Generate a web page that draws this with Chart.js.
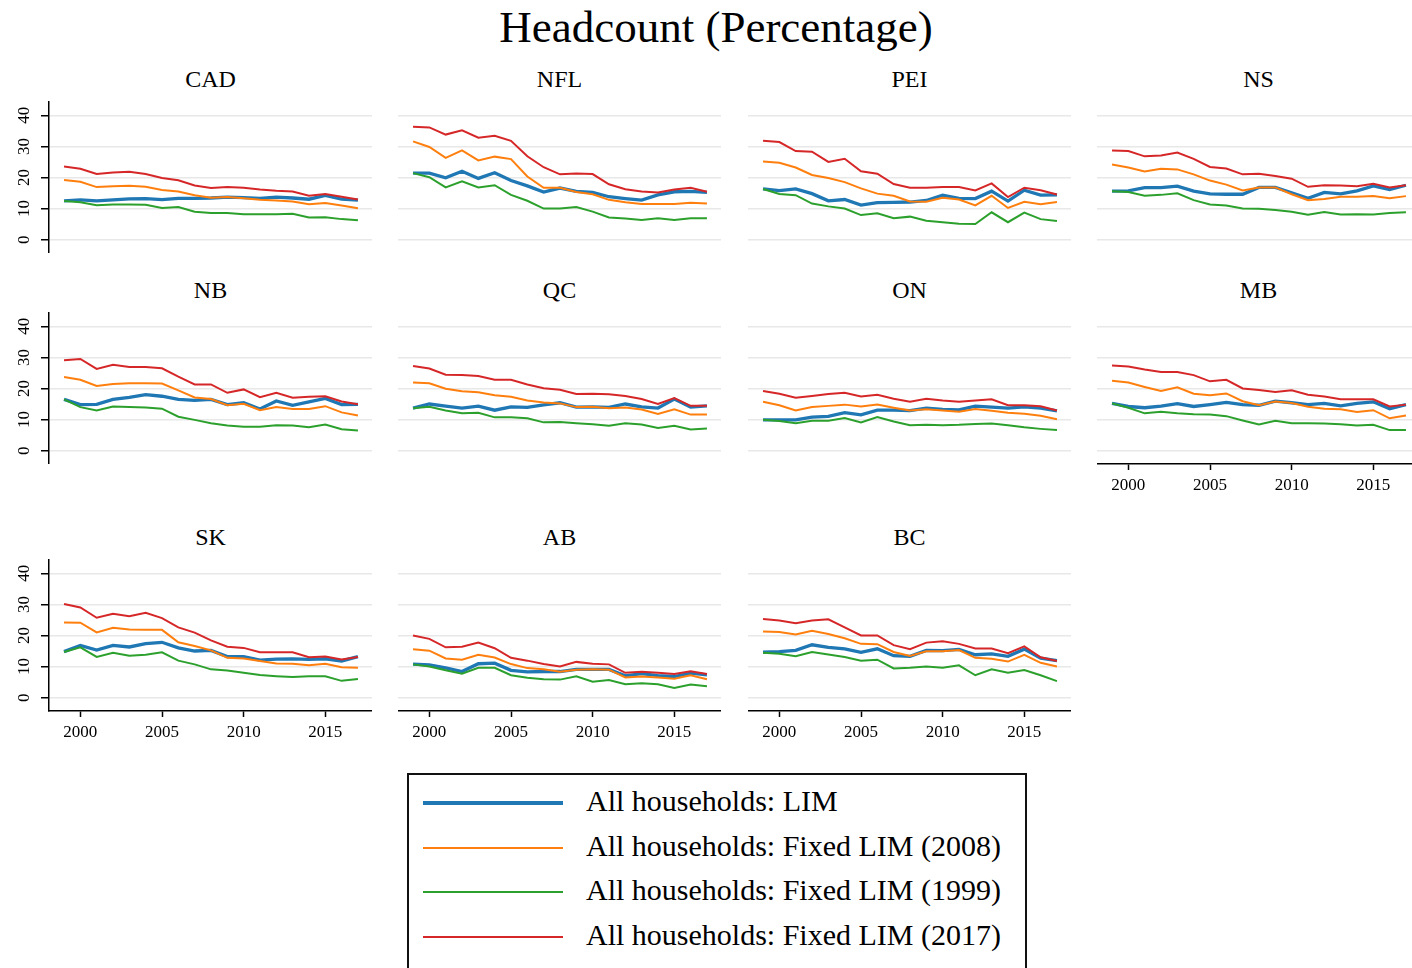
<!DOCTYPE html>
<html>
<head>
<meta charset="utf-8">
<title>Headcount (Percentage)</title>
<script src="https://cdn.jsdelivr.net/npm/chart.js@4.4.1/dist/chart.umd.min.js"></script>
<style>
  html, body { margin: 0; padding: 0; background: #fff; width: 1412px; height: 968px; overflow: hidden; }
  body { position: relative; font-family: "Liberation Serif", "Times New Roman", serif; color: #000; }
  .lbl { position: absolute; transform: translate(-50%, -50%); white-space: nowrap; line-height: 1; }
  canvas { position: absolute; }
  #legendBox { position: absolute; left: 407px; top: 773px; width: 620px; height: 230px; border: 2px solid #111; box-sizing: border-box; }
  .legLine { position: absolute; left: 423px; width: 140px; }
  .legText { position: absolute; left: 586px; font-size: 30px; line-height: 1; white-space: nowrap; transform: translateY(-50%); }
</style>
</head>
<body>
<div class="lbl" style="left:716px;top:27px;font-size:45px;">Headcount (Percentage)</div>
<div id="legendBox"></div>
<script>
// Survey years and axis ticks
const years = [1999, 2000, 2001, 2002, 2003, 2004, 2005, 2006, 2007, 2008, 2009, 2010, 2011, 2012, 2013, 2014, 2015, 2016, 2017];
const yearTicks = [2000, 2005, 2010, 2015];
const pctTicks = [0, 10, 20, 30, 40];

const seriesNames = [
  'All households: LIM',
  'All households: Fixed LIM (2008)',
  'All households: Fixed LIM (1999)',
  'All households: Fixed LIM (2017)'
];
const seriesColors = ['#1f77b4', '#ff7f0e', '#2ca02c', '#d62728'];

// Headcount rates (%) by region
const cadLim     = [12.5,12.8,12.5,12.8,13.1,13.2,12.9,13.3,13.3,13.4,13.7,13.5,13.3,13.7,13.4,13.0,14.2,13.0,12.7];
const cadFix2008 = [19.2,18.6,16.9,17.2,17.3,17.0,16.0,15.5,14.3,13.5,13.7,13.3,12.8,12.6,12.3,11.4,11.8,11.0,10.1];
const cadFix1999 = [12.4,12.0,11.1,11.3,11.3,11.2,10.2,10.5,9.0,8.6,8.6,8.2,8.2,8.2,8.3,7.1,7.2,6.6,6.2];
const cadFix2017 = [23.5,22.8,21.1,21.6,21.8,21.1,19.8,19.1,17.4,16.6,16.9,16.7,16.1,15.7,15.5,14.1,14.7,13.8,12.9];

const nflLim     = [21.4,21.4,19.9,22.0,19.7,21.5,19.0,17.3,15.3,16.6,15.5,15.2,13.8,13.2,12.7,14.4,15.4,15.5,15.2];
const nflFix2008 = [31.6,29.8,26.3,28.7,25.5,26.7,25.9,20.3,16.7,16.7,15.3,14.6,12.8,12.0,11.5,11.5,11.5,11.9,11.6];
const nflFix1999 = [21.4,20.1,16.8,18.8,16.8,17.5,14.4,12.5,10.0,10.0,10.5,9.0,7.1,6.8,6.3,6.9,6.3,6.9,6.9];
const nflFix2017 = [36.3,36.1,33.8,35.2,32.8,33.4,31.8,26.8,23.3,21.0,21.3,21.1,17.8,16.2,15.5,15.2,16.1,16.7,15.4];

const peiLim     = [16.3,15.8,16.3,14.8,12.5,12.9,11.1,11.9,12.0,12.1,12.6,14.3,13.3,13.2,15.6,12.4,15.9,14.3,14.4];
const peiFix2008 = [25.1,24.7,23.2,20.8,19.8,18.5,16.5,14.8,14.1,12.3,12.2,13.5,12.9,11.0,14.1,10.2,12.2,11.4,12.1];
const peiFix1999 = [16.3,14.7,14.3,11.6,10.7,10.0,7.9,8.5,6.9,7.4,6.1,5.6,5.1,5.0,8.8,5.6,8.7,6.6,6.0];
const peiFix2017 = [31.8,31.4,28.5,28.3,25.0,26.0,22.0,21.2,17.9,16.7,16.7,16.9,16.9,15.8,18.1,13.7,16.7,15.9,14.5];

const nsLim      = [15.6,15.7,16.7,16.7,17.2,15.6,14.7,14.6,14.6,16.8,16.8,15.1,13.3,15.2,14.7,15.7,17.3,16.1,17.5];
const nsFix2008  = [24.2,23.2,21.9,22.8,22.6,21.0,19.0,17.7,15.8,16.8,16.8,14.6,12.7,13.1,13.8,13.8,14.0,13.3,14.0];
const nsFix1999  = [15.6,15.3,14.1,14.4,14.9,12.7,11.3,11.0,10.0,9.9,9.5,9.0,8.0,8.9,8.1,8.2,8.1,8.6,8.8];
const nsFix2017  = [28.7,28.5,26.8,27.1,28.0,26.0,23.4,22.9,21.0,21.2,20.5,19.6,17.0,17.5,17.4,17.2,18.0,16.8,17.5];

const nbLim      = [16.5,14.8,14.9,16.5,17.1,18.0,17.5,16.5,16.2,16.5,14.8,15.4,13.4,16.0,14.6,15.7,16.8,14.8,14.9];
const nbFix2008  = [23.7,22.8,20.8,21.4,21.7,21.7,21.6,19.4,17.1,16.6,14.6,15.1,13.0,14.0,13.4,13.4,14.3,12.3,11.3];
const nbFix1999  = [16.5,14.0,12.9,14.2,14.0,13.9,13.5,10.9,9.9,8.8,8.1,7.7,7.7,8.2,8.1,7.5,8.4,6.9,6.5];
const nbFix2017  = [29.1,29.5,26.3,27.6,26.9,26.9,26.5,23.8,21.3,21.3,18.6,19.7,17.2,18.6,17.0,17.3,17.5,15.8,14.9];

const qcLim      = [13.7,15.0,14.3,13.7,14.3,13.0,14.1,13.9,14.7,15.4,14.0,14.1,13.9,15.0,14.1,13.7,16.6,14.0,14.4];
const qcFix2008  = [21.9,21.7,19.9,19.1,18.8,17.8,17.3,16.1,15.5,15.2,14.0,14.1,13.6,13.9,13.2,11.8,13.3,11.6,11.6];
const qcFix1999  = [13.6,14.1,12.9,12.0,12.2,10.7,10.7,10.4,9.1,9.2,8.8,8.5,8.0,8.8,8.4,7.3,8.0,6.8,7.1];
const qcFix2017  = [27.2,26.4,24.4,24.3,24.0,22.8,22.8,21.3,20.1,19.6,18.2,18.3,18.1,17.6,16.6,15.0,16.9,14.4,14.4];

const onLim      = [9.9,9.9,9.9,10.8,11.0,12.2,11.5,13.0,13.0,12.9,13.7,13.3,13.1,14.3,14.0,13.7,14.1,13.7,12.8];
const onFix2008  = [15.7,14.6,12.9,14.0,14.4,14.8,14.2,14.8,13.8,12.9,13.3,12.9,12.5,13.4,12.8,12.2,11.9,11.2,10.1];
const onFix1999  = [9.9,9.5,8.8,9.6,9.6,10.5,9.1,10.8,9.4,8.2,8.3,8.2,8.3,8.6,8.7,8.2,7.5,7.0,6.6];
const onFix2017  = [19.2,18.3,17.0,17.6,18.2,18.6,17.4,18.0,16.7,15.7,16.7,16.1,15.7,16.1,16.5,14.6,14.6,14.3,12.9];

const mbLim      = [15.2,14.2,13.8,14.3,15.1,14.2,14.8,15.5,14.8,14.6,15.9,15.4,14.8,15.2,14.4,15.2,15.7,13.5,14.8];
const mbFix2008  = [22.5,21.9,20.5,19.2,20.4,18.3,17.8,18.4,15.9,14.6,15.8,15.3,14.1,13.5,13.3,12.4,13.0,10.4,11.3];
const mbFix1999  = [15.2,13.8,12.0,12.5,12.0,11.7,11.6,11.1,9.7,8.4,9.6,8.8,8.8,8.7,8.5,8.1,8.3,6.6,6.6];
const mbFix2017  = [27.4,27.1,26.1,25.3,25.3,24.3,22.3,22.8,20.0,19.5,18.9,19.4,18.0,17.4,16.5,16.5,16.5,14.2,14.8];

const skLim      = [14.8,16.8,15.3,16.8,16.3,17.4,17.8,16.0,15.0,15.2,13.2,13.2,12.1,12.4,12.5,12.3,12.5,11.8,13.2];
const skFix2008  = [24.2,24.1,21.0,22.5,21.9,21.8,21.8,17.8,16.6,15.2,12.8,12.6,11.8,11.0,10.9,10.4,10.9,9.8,9.6];
const skFix1999  = [14.7,16.2,13.1,14.4,13.5,13.8,14.6,11.9,10.7,9.1,8.7,8.0,7.3,6.9,6.6,6.9,6.9,5.4,6.0];
const skFix2017  = [30.1,29.0,25.7,27.0,26.2,27.3,25.6,22.6,20.9,18.4,16.4,16.0,14.6,14.6,14.6,13.0,13.2,12.3,13.1];

const abLim      = [10.8,10.5,9.6,8.4,10.9,11.1,8.8,8.3,8.4,8.4,9.1,9.1,9.1,7.0,7.7,7.1,6.8,7.9,7.3];
const abFix2008  = [15.6,15.1,12.6,12.2,13.8,12.9,10.8,9.5,9.1,8.3,9.0,9.1,9.0,6.5,6.8,6.5,6.1,7.2,5.9];
const abFix1999  = [10.7,10.0,8.8,7.7,9.6,9.6,7.2,6.4,5.9,5.8,6.9,5.1,5.7,4.3,4.6,4.3,3.1,4.2,3.7];
const abFix2017  = [20.0,18.9,16.2,16.4,17.7,15.9,12.8,11.9,10.8,10.0,11.5,10.9,10.7,8.0,8.3,8.0,7.6,8.5,7.6];

const bcLim      = [14.6,14.8,15.2,17.0,16.2,15.7,14.6,15.7,13.5,13.3,15.2,15.1,15.5,13.8,14.1,13.3,15.6,12.7,11.9];
const bcFix2008  = [21.3,21.1,20.3,21.5,20.5,19.1,17.3,17.2,14.7,13.4,14.9,14.9,15.3,12.8,12.5,11.6,13.8,11.2,10.0];
const bcFix1999  = [14.4,14.1,13.3,14.7,13.9,13.1,11.9,12.2,9.4,9.6,10.0,9.6,10.4,7.2,9.1,8.0,8.9,7.2,5.3];
const bcFix2017  = [25.3,24.8,23.9,24.8,25.2,22.6,20.0,20.0,16.9,15.6,17.7,18.1,17.3,15.8,15.8,14.3,16.5,13.0,11.8];

// Panel grid: region name, column, row, and whether the year axis is shown
const panels = [
  { name: 'CAD', col: 0, row: 0, xAxis: false, series: [cadLim, cadFix2008, cadFix1999, cadFix2017] },
  { name: 'NFL', col: 1, row: 0, xAxis: false, series: [nflLim, nflFix2008, nflFix1999, nflFix2017] },
  { name: 'PEI', col: 2, row: 0, xAxis: false, series: [peiLim, peiFix2008, peiFix1999, peiFix2017] },
  { name: 'NS',  col: 3, row: 0, xAxis: false, series: [nsLim, nsFix2008, nsFix1999, nsFix2017] },
  { name: 'NB',  col: 0, row: 1, xAxis: false, series: [nbLim, nbFix2008, nbFix1999, nbFix2017] },
  { name: 'QC',  col: 1, row: 1, xAxis: false, series: [qcLim, qcFix2008, qcFix1999, qcFix2017] },
  { name: 'ON',  col: 2, row: 1, xAxis: false, series: [onLim, onFix2008, onFix1999, onFix2017] },
  { name: 'MB',  col: 3, row: 1, xAxis: true,  series: [mbLim, mbFix2008, mbFix1999, mbFix2017] },
  { name: 'SK',  col: 0, row: 2, xAxis: true,  series: [skLim, skFix2008, skFix1999, skFix2017] },
  { name: 'AB',  col: 1, row: 2, xAxis: true,  series: [abLim, abFix2008, abFix1999, abFix2017] },
  { name: 'BC',  col: 2, row: 2, xAxis: true,  series: [bcLim, bcFix2008, bcFix1999, bcFix2017] }
];

// Layout of the plot regions
const colLeft = [49, 398, 748, 1097];
const plotW = 323;
const rowTop = [101, 312, 559];
const plotH = 152;
const titleY = [79, 290, 537];
const yAxisW = 49;
const xAxisH = 40;
const serif = '"Liberation Serif", "Times New Roman", serif';

// Rotated y tick labels (read bottom to top)
const yLabelPlugin = {
  id: 'yLabels',
  afterDraw(chart) {
    const s = chart.scales.y;
    const ctx = chart.ctx;
    ctx.save();
    ctx.font = '17px ' + serif;
    ctx.fillStyle = '#000';
    ctx.textAlign = 'center';
    ctx.textBaseline = 'alphabetic';
    pctTicks.forEach(v => {
      const py = s.getPixelForValue(v);
      ctx.save();
      ctx.translate(28.5, py);
      ctx.rotate(-Math.PI / 2);
      ctx.fillText(String(v), 0, 0);
      ctx.restore();
    });
    ctx.restore();
  }
};

panels.forEach(p => {
  const first = p.col === 0;
  const left = colLeft[p.col] - (first ? yAxisW : 0);
  const w = plotW + (first ? yAxisW : 0);
  const h = plotH + (p.xAxis ? xAxisH : 0);

  const t = document.createElement('div');
  t.className = 'lbl';
  t.style.left = (colLeft[p.col] + plotW / 2) + 'px';
  t.style.top = titleY[p.row] + 'px';
  t.style.fontSize = '24px';
  t.textContent = p.name;
  document.body.appendChild(t);

  const cv = document.createElement('canvas');
  cv.width = w; cv.height = h;
  cv.style.left = left + 'px';
  cv.style.top = rowTop[p.row] + 'px';
  cv.style.width = w + 'px';
  cv.style.height = h + 'px';
  document.body.appendChild(cv);

  new Chart(cv, {
    type: 'line',
    data: {
      datasets: p.series.map((arr, i) => ({
        label: seriesNames[i],
        data: years.map((yr, k) => ({ x: yr, y: arr[k] })),
        borderColor: seriesColors[i],
        borderWidth: i === 0 ? 3.3 : 2,
        pointRadius: 0,
        tension: 0,
        fill: false,
        order: 3 - i
      }))
    },
    options: {
      responsive: false,
      animation: false,
      devicePixelRatio: 1,
      events: [],
      layout: { padding: 0 },
      plugins: { legend: { display: false }, tooltip: { enabled: false }, title: { display: false } },
      scales: {
        x: {
          type: 'linear', min: 1998.08, max: 2017.86,
          display: p.xAxis,
          afterFit: s => { s.height = p.xAxis ? xAxisH : 0; },
          afterBuildTicks: s => { s.ticks = yearTicks.map(v => ({ value: v })); },
          grid: { drawOnChartArea: false, drawTicks: true, tickLength: 6, tickColor: '#000', tickWidth: 1.5 },
          border: { display: true, color: '#000', width: 1.5 },
          ticks: { callback: v => String(v), font: { family: serif, size: 17 }, color: '#000', padding: 5, maxRotation: 0, autoSkip: false }
        },
        y: {
          type: 'linear', min: -4.3, max: 44.6,
          display: true,
          afterFit: s => { s.width = first ? yAxisW : 0; },
          afterBuildTicks: s => { s.ticks = pctTicks.map(v => ({ value: v })); },
          grid: { color: '#e8e8e8', lineWidth: 1.5, drawTicks: first, tickLength: 8, tickColor: '#000', tickWidth: 1.5 },
          border: { display: first, color: '#000', width: 1.5 },
          ticks: { display: false }
        }
      }
    },
    plugins: first ? [yLabelPlugin] : []
  });
});

// Legend entries
const legendRowY = [803, 848, 892, 937];
seriesNames.forEach((name, i) => {
  const ln = document.createElement('div');
  ln.className = 'legLine';
  const thick = i === 0 ? 4 : 2.5;
  ln.style.top = (legendRowY[i] - thick / 2) + 'px';
  ln.style.height = thick + 'px';
  ln.style.background = seriesColors[i];
  document.body.appendChild(ln);

  const tx = document.createElement('div');
  tx.className = 'legText';
  tx.style.top = (legendRowY[i] - 2) + 'px';
  tx.textContent = name;
  document.body.appendChild(tx);
});
</script>
</body>
</html>
